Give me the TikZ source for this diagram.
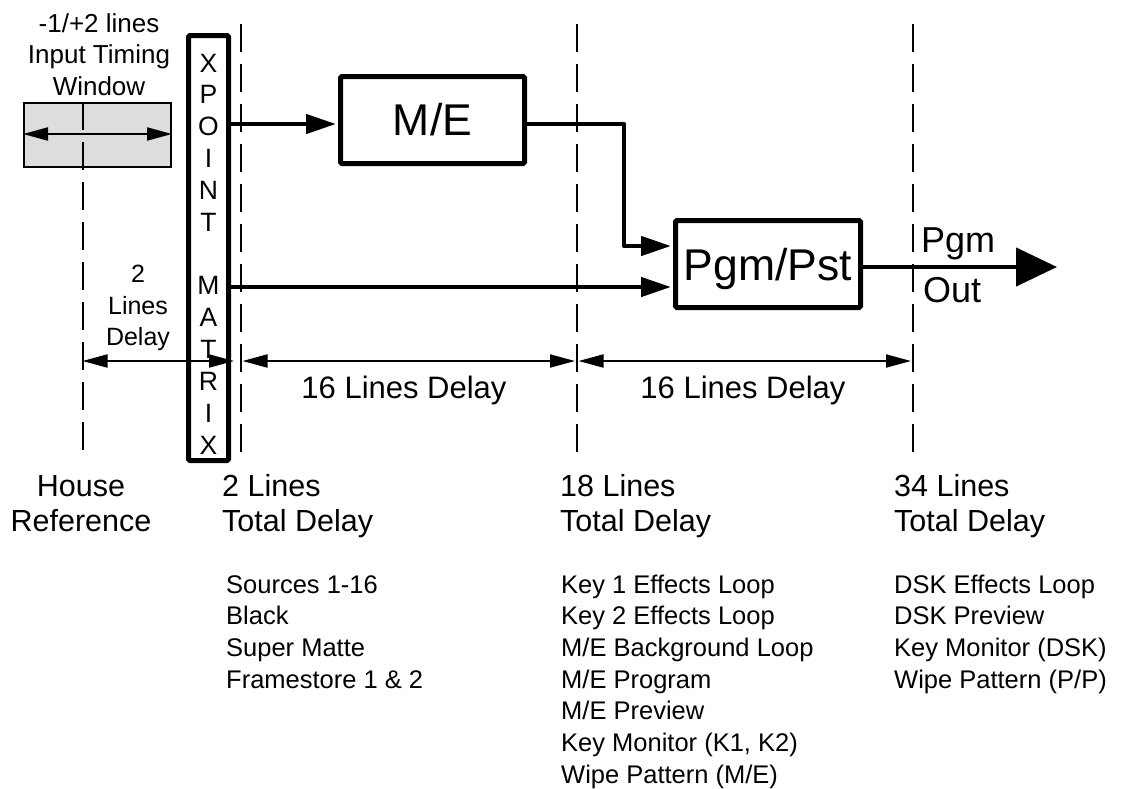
\documentclass[tikz,border=0pt]{standalone}
\usepackage{fontspec}
\setmainfont{Liberation Sans}
\usetikzlibrary{arrows.meta,calc}
\definecolor{winfill}{RGB}{221,221,221}
\begin{document}
\begin{tikzpicture}[x=1pt,y=-1pt,
  box/.style={draw,line width=5pt,rounded corners=1.5pt,inner sep=0pt},
  bigtext/.style={font=\fontsize{44.5}{50}\selectfont},
  flow/.style={line width=4.5pt,line join=round,shorten >=2pt,-{Triangle[length=30pt,width=19pt]}},
  dim/.style={line width=2pt,{Triangle[length=25pt,width=13pt]}-{Triangle[length=25pt,width=13pt]}},
  guide/.style={line width=2pt,dash pattern=on 28pt off 12pt},
  lbl/.style={font=\fontsize{30.5}{34}\selectfont,inner sep=0pt},
  item/.style={font=\fontsize{25.5}{31}\selectfont,inner sep=0pt,anchor=base west},
  small/.style={font=\fontsize{26}{31}\selectfont,inner sep=0pt,anchor=base},
  xpl/.style={font=\fontsize{26.5}{30}\selectfont,inner sep=0pt},
]
\useasboundingbox (0,0) rectangle (1122,788);

% guide coordinates
\coordinate (g0t) at (82.5,102);  \coordinate (g0b) at (82.5,450);
\coordinate (g1t) at (241,24);    \coordinate (g1b) at (241,452);
\coordinate (g2t) at (577,24);    \coordinate (g2b) at (577,452);
\coordinate (g3t) at (913,24);    \coordinate (g3b) at (913,452);

% input timing window
\node[draw,fill=winfill,line width=2pt,minimum width=147pt,minimum height=64pt,inner sep=0pt] (win) at (97.5,135) {};

% guides
\draw[guide] (g0t) -- (g0b);
\draw[guide] (g1t) -- (g1b);
\draw[guide] (g2t) -- (g2b);
\draw[guide] (g3t) -- (g3b);

\coordinate (wa) at (0,134);
\draw[dim] (win.west |- wa) -- (win.east |- wa);

% top text
\node[small] (t1) at (99,32) {-1/+2 lines};
\node[small] (t2) at (99,63.5) {Input Timing};
\node[small] (t3) at (99,95) {Window};

% crosspoint matrix
\node[box,minimum width=40pt,minimum height=425pt] (xp) at (208.5,248) {};
\foreach \l/\k in {X/0,P/1,O/2,I/3,N/4,T/5,M/7,A/8,T/9,R/10,I/11,X/12}
  \node[xpl] (xl\k) at (208.5,63+31.83*\k) {\l};

% M/E and Pgm/Pst
\node[box,bigtext,minimum width=184pt,minimum height=87pt] (me) at (432.5,120) {M/E};
\node[box,bigtext,minimum width=185pt,minimum height=87pt,text depth=0pt] (pgm) at (768,264) {Pgm/Pst};

% flows
\coordinate (r1) at (0,124);
\coordinate (r2) at (624,246);
\coordinate (r3) at (0,287);
\draw[flow] (xp.east |- r1) -- (me.west |- r1);
\draw[flow] (me.east |- r1) -| (r2) -- (pgm.west |- r2);
\draw[flow] (xp.east |- r3) -- (pgm.west |- r3);

% output
\coordinate (tip) at (1057,267);
\draw[line width=4.5pt,-{Triangle[length=41pt,width=38pt]}] (pgm.east |- tip) -- (tip);
\node[inner sep=0pt,anchor=base west,font=\fontsize{36}{40}\selectfont] (pgmo) at (921,252) {Pgm};
\node[inner sep=0pt,anchor=base west,font=\fontsize{36}{40}\selectfont] (out) at (923,302) {Out};

% dimension lines
\coordinate (dy) at (0,361);
\draw[dim] (g0t |- dy) -- ($(xp.east |- dy)+(3,0)$);
\draw[dim,shorten <=1.5pt,shorten >=2pt] (g1t |- dy) -- (g2t |- dy);
\draw[dim,shorten <=1.5pt,shorten >=2pt] (g2t |- dy) -- (g3t |- dy);

\node[small,font=\fontsize{25}{31}\selectfont] (d1) at (138,282) {2};
\node[small,font=\fontsize{25}{31}\selectfont] (d2) at (138,314) {Lines};
\node[small,font=\fontsize{25}{31}\selectfont] (d3) at (138,345.5) {Delay};

\node[inner sep=0pt,anchor=base,font=\fontsize{31}{36}\selectfont] (s16a) at (404,398) {16 Lines Delay};
\node[inner sep=0pt,anchor=base,font=\fontsize{31}{36}\selectfont] (s16b) at (743,398) {16 Lines Delay};

% bottom labels
\node[lbl,anchor=base] (h1) at (81,496) {House};
\node[lbl,anchor=base] (h2) at (81,531) {Reference};
\node[lbl,anchor=base west] (a1) at (222,496) {2 Lines};
\node[lbl,anchor=base west] (a2) at (222,531) {Total Delay};
\node[lbl,anchor=base west] (b1) at (560,496) {18 Lines};
\node[lbl,anchor=base west] (b2) at (560,531) {Total Delay};
\node[lbl,anchor=base west] (c1) at (894,496) {34 Lines};
\node[lbl,anchor=base west] (c2) at (894,531) {Total Delay};

% lists
\foreach \t [count=\i from 0] in {Sources 1-16, Black, Super Matte, Framestore 1 \& 2}
  \node[item] (la\i) at (226,593+31.7*\i) {\t};
\foreach \t [count=\i from 0] in {Key 1 Effects Loop, Key 2 Effects Loop, M/E Background Loop, M/E Program, M/E Preview, {Key Monitor (K1, K2)}, Wipe Pattern (M/E)}
  \node[item] (lb\i) at (561,593+31.7*\i) {\t};
\foreach \t [count=\i from 0] in {DSK Effects Loop, DSK Preview, Key Monitor (DSK), Wipe Pattern (P/P)}
  \node[item] (lc\i) at (894,593+31.7*\i) {\t};
\end{tikzpicture}
\end{document}
